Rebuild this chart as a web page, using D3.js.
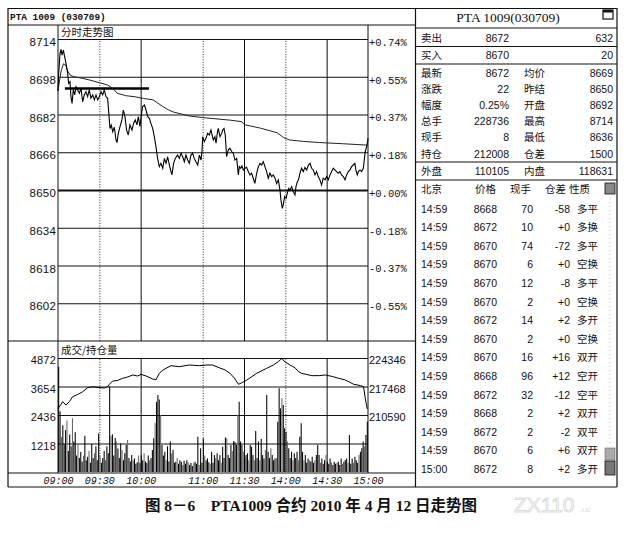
<!DOCTYPE html>
<html><head><meta charset="utf-8">
<script src="https://cdn.jsdelivr.net/npm/d3@7"></script>
<style>
body{margin:0;background:#fff;}
svg{display:block;}
.num{font-family:"Liberation Sans",Arial,sans-serif;}
.mono{font-family:"Liberation Mono","DejaVu Sans Mono",monospace;}
.cjk{font-family:"Noto Sans CJK SC",sans-serif;}
.serif{font-family:"Liberation Serif","Times New Roman",serif;}
</style></head><body>
<svg id="c" width="633" height="535"></svg>
<script>
// ---------------- DATA ----------------
const title = "PTA 1009 (030709)";
const panelTitle = "PTA 1009(030709)";
const timeTickMinutes = [0,30,60,105,135,165,195,225];
const timeTickLabels = ["09:00","09:30","10:00","11:00","11:30","14:00","14:30","15:00"];
const timeGridStyle = ["edge","dot","solid","dot","solid","dot","solid","edge"];
const priceTicks = [8714,8698,8682,8666,8650,8634,8618,8602];
const pctLabels = ["+0.74%","+0.55%","+0.37%","+0.18%","+0.00%","-0.18%","-0.37%","-0.55%"];
const prevSettle = 8650;
const volTicks = [4872,3654,2436,1218];
const oiTicks = [224346,217468,210590];
const markLine = [5, 66, 8693];   // start minute, end minute, price level

const pricePoints = [[0,8692],[0.5,8699.5],[1.5,8708],[2.2,8709.6],[2.9,8707.2],[3.9,8709.3],[4.8,8706.5],[5.8,8703.7],[7,8699.5],[7.7,8695.2],[8.7,8695.9],[9.4,8689.6],[10.2,8686.7],[11.1,8692.4],[12.1,8690.3],[13.1,8693.8],[14.3,8692.4],[15.5,8691],[16.7,8693.1],[17.9,8687.4],[19.1,8690.3],[20.3,8691.7],[21.5,8689.6],[22.7,8692.4],[23.9,8688.9],[25.2,8690.3],[26.4,8688.2],[27.6,8690.3],[28.8,8688.2],[30,8689.6],[31.2,8691.7],[32.4,8690.3],[33.6,8692.4],[34.8,8689.6],[36,8688.9],[36.8,8683.2],[37.7,8676.1],[38.7,8677.5],[39.7,8674.7],[40.9,8676.6],[42.1,8671.2],[42.8,8670.1],[43.8,8674],[45,8676.9],[46.4,8679.7],[47.4,8683.9],[48.6,8681.1],[49.8,8675.4],[51,8673.3],[52.2,8677.6],[53.7,8675.4],[54.9,8678.3],[56.1,8679.7],[57.3,8677.6],[58.3,8681.1],[59.5,8676.9],[60.5,8681.8],[61.4,8685.3],[62.7,8686],[63.9,8683.9],[65.1,8681.1],[66.3,8680.4],[67.5,8678.1],[68.7,8676.1],[69.9,8672.6],[71.1,8668.4],[72.3,8663.4],[73.5,8659.9],[74.7,8661.3],[76,8659.2],[77.2,8663.4],[78.4,8661.3],[79.6,8664.1],[80.8,8660.6],[82,8657.8],[82.7,8656.4],[83.9,8661.3],[85.1,8663.4],[86.8,8664.8],[88.1,8663.4],[89.3,8665.6],[90.5,8664.1],[91.7,8662],[92.9,8664.8],[94.1,8662.7],[95.3,8661.3],[96.5,8664.8],[97.7,8665.6],[98.9,8663.4],[100.1,8662],[101.4,8660.6],[102.6,8664.8],[103.8,8662.7],[104.5,8666.3],[105,8672.6],[106.2,8670.5],[107.4,8671.9],[108.6,8674],[109.8,8673.3],[111,8675.4],[112.7,8671.2],[113.9,8672.6],[114.7,8669.8],[115.6,8674],[116.3,8676.1],[117.6,8672.6],[118.8,8674],[119.5,8675.4],[120.5,8676.1],[121.4,8673.3],[122.4,8664.1],[123.6,8667],[124.8,8667.7],[126,8666.3],[127.2,8665.6],[128.4,8662.7],[129.7,8663.4],[130.9,8656.4],[131.6,8659.9],[132.6,8659.2],[133.5,8660.2],[134.5,8658.5],[135.7,8659.2],[136.9,8659.6],[138.1,8657.8],[139.3,8656.4],[140.5,8657.1],[141.7,8655],[142.9,8652.8],[144.2,8657.1],[145.4,8659.9],[146.6,8661.3],[147.8,8660.6],[149,8662],[150.2,8659.9],[151.4,8657.8],[152.6,8655],[153.8,8657.1],[155.1,8655.7],[156.3,8656.4],[157.5,8655],[158.7,8652.8],[159.9,8654.3],[161.1,8650],[161.8,8645.8],[162.8,8642.2],[163.5,8643.7],[164.5,8647.2],[165.5,8646.5],[166.4,8648.6],[167.4,8650.7],[168.4,8650],[169.6,8651.4],[170.8,8649.3],[172,8647.9],[172.7,8651.4],[173.7,8653.5],[174.6,8654.3],[175.6,8657.1],[176.8,8659.2],[178,8657.8],[179.2,8659.6],[180.5,8658.5],[181.7,8660.6],[182.9,8661.3],[184.1,8659.2],[185.3,8658.5],[186.5,8656.4],[187.7,8657.8],[188.9,8655.7],[190.1,8654.3],[191.3,8652.1],[192.5,8655],[193.8,8654.3],[195,8655.7],[196.2,8654.3],[197.4,8656.4],[198.6,8657.8],[199.8,8659.2],[201,8658.5],[202.2,8657.8],[203.4,8657.1],[204.6,8657.8],[205.8,8656.4],[207.1,8655.7],[208.3,8654.3],[209.5,8656.4],[210.7,8657.8],[211.9,8658.5],[213.1,8659.9],[214.3,8660.6],[215.5,8661.3],[216.2,8658.5],[217.2,8656.4],[218,8657.8],[219.2,8658.5],[220.4,8657.8],[221.6,8659.2],[222.3,8662.7],[223,8666.3],[224,8668.4],[224.7,8670.5],[225,8672]];

const avgPoints = [[0,8692],[1,8696],[2.5,8701],[4,8703.5],[5.5,8703],[7,8700.5],[9,8698.5],[12,8698],[18,8697.3],[23,8696.6],[30,8695.5],[36,8694.5],[40,8693],[43,8691],[49,8690],[56,8689.5],[62,8688.8],[69,8688.2],[72,8687],[76,8685.4],[80,8684],[84,8683],[89,8682.3],[95,8681.4],[105,8680.7],[114,8680.2],[125,8679.6],[133,8679],[136,8677.6],[147,8676.2],[159,8674.3],[163.5,8672.3],[168,8671.2],[178,8670.6],[190,8670.1],[207,8669.6],[225,8669]];

const volumes = [
4500,2600,1500,2000,1200,1800,2200,900,1600,1100,2300,1300,1700,700,1200,
600,850,450,700,1550,500,650,900,400,1200,600,800,1100,500,1650,
700,400,600,900,500,1100,800,3650,1550,1600,700,1450,1300,1000,600,
1220,940,500,800,1150,1370,600,450,730,500,580,350,420,700,400,
720,500,800,450,380,700,500,600,940,1440,2100,3000,3290,3100,2440,
1150,700,870,500,1100,450,1300,800,950,400,440,600,350,500,440,
300,480,350,500,420,300,380,260,400,440,350,1510,300,1010,400,
1440,700,500,580,420,350,870,400,730,600,800,500,730,400,1080,
600,1470,1440,730,600,1150,900,1320,1270,1150,2440,3000,1300,1150,870,
600,730,800,500,1150,1080,730,500,1750,600,1300,500,1410,730,580,
940,3290,870,600,1010,730,500,580,600,2150,3580,2720,3150,2860,1870,
1720,1300,1010,600,870,500,800,600,870,500,1510,2080,870,500,730,
400,580,500,450,650,400,500,730,1150,730,400,580,350,500,730,
440,350,580,400,300,440,350,400,440,300,580,350,440,510,580,
400,1580,350,580,400,650,500,400,730,870,1010,1300,1100,1580,2150];

const oiPoints = [[0,212200],[1.5,212800],[3.4,213800],[5.8,213000],[8.2,213800],[10.6,215000],[14,215500],[17.9,216200],[21.5,217180],[25.2,217400],[30,217200],[33.6,217100],[36,217400],[37.3,218000],[39.7,218800],[43,218900],[46.9,219450],[50,219700],[54.2,220240],[57.8,220000],[60.2,220400],[63.9,220000],[66,219700],[68.7,219280],[71.1,219100],[73.5,220650],[76,221400],[78.4,221860],[82,222490],[88,222250],[95.3,222657],[102.6,222500],[108,222650],[112,222657],[117,222000],[121.4,221450],[125,220600],[128,219500],[131,218000],[133,218300],[137,219000],[144.2,220650],[151.4,221850],[156.3,222650],[160,223500],[162.6,224270],[164,223600],[168.4,222650],[172,222000],[174.6,221040],[176.8,220650],[184.3,220080],[190,220100],[194,220250],[199,219900],[203.7,219450],[208,219100],[211,218640],[214.6,218000],[219.4,217700],[221.8,217420],[223,214620],[224.5,212008]];

const quoteSell = ["卖出","8672","632"];
const quoteBuy = ["买入","8670","20"];
const statLabels1 = ["最新","涨跌","幅度","总手","现手","持仓"];
const statValues1 = ["8672","22","0.25%","228736","8","212008"];
const statLabels2 = ["均价","昨结","开盘","最高","最低","仓差"];
const statValues2 = ["8669","8650","8692","8714","8636","1500"];
const outerInner = ["外盘","110105","内盘","118631"];
const tradeHeader = ["北京","价格","现手","仓差","性质"];
const tradeTimes = ["14:59","14:59","14:59","14:59","14:59","14:59","14:59","14:59","14:59","14:59","14:59","14:59","14:59","14:59","15:00"];
const tradePrice = [8668,8672,8670,8670,8670,8670,8672,8670,8670,8668,8672,8668,8672,8670,8672];
const tradeVol = [70,10,74,6,12,2,14,2,16,96,32,2,2,6,8];
const tradeOI = ["-58","+0","-72","+0","-8","+0","+2","+0","+16","+12","-12","+2","-2","+6","+2"];
const tradeType = ["多平","多换","多平","空换","多平","空换","多开","空换","双开","空开","空平","双开","双平","双开","多开"];
const caption = "图 8－6    PTA1009 合约 2010 年 4 月 12 日走势图";

// ---------------- DRAW ----------------
const svg = d3.select("#c");
const ink = "#111";
const L = 58, R = 368;
const x = d3.scaleLinear().domain([0,225]).range([L,R]);
const yP = d3.scaleLinear().domain([8586,8714]).range([341,39]);
const yV = d3.scaleLinear().domain([0,4872]).range([472,358]);
const yOI = d3.scaleLinear().domain([196834,224346]).range([472,358]);

function hline(x1,x2,y,w){svg.append("line").attr("x1",x1).attr("x2",x2).attr("y1",y).attr("y2",y).attr("stroke",ink).attr("stroke-width",w||1);}
function vline(xx,y1,y2,w){svg.append("line").attr("x1",xx).attr("x2",xx).attr("y1",y1).attr("y2",y2).attr("stroke",ink).attr("stroke-width",w||1);}

// left frame
hline(8,617,8.5,1.2);
hline(8,415,25,1);
vline(8,8,487,1.2);
vline(415.5,8,487,1.2);
vline(617,8,487,1.2);
hline(8,617,487,1.2);
hline(8,415,341,1.2);
hline(8,415,473,1.2);
vline(L,25,473,1);
vline(R,25,473,1);

svg.append("text").attr("class","mono").attr("x",10).attr("y",20).attr("font-size",9.4).attr("font-weight","bold").attr("fill",ink).text(title);
svg.append("text").attr("class","cjk").attr("x",61).attr("y",36).attr("font-size",10.5).attr("fill",ink).text("分时走势图");
svg.append("text").attr("class","cjk").attr("x",61).attr("y",354).attr("font-size",10.5).attr("fill",ink).text("成交/持仓量");

// vertical time grid
function vgrid(y0,h){
  const g = svg.append("g").attr("transform",`translate(0,${y0})`)
   .call(d3.axisBottom(x).tickValues(timeTickMinutes).tickSize(-h).tickFormat(""));
  g.select(".domain").remove();
  g.selectAll(".tick line").attr("stroke",ink)
   .attr("stroke-width",(d,i)=>timeGridStyle[i]==="dot"?0.9:1)
   .attr("stroke-dasharray",(d,i)=>timeGridStyle[i]==="dot"?"1,1.6":null)
   .attr("opacity",(d,i)=>timeGridStyle[i]==="edge"?0:1);
}
vgrid(341,302);
vgrid(472,114);

// price grid + labels
const gPL = svg.append("g").attr("transform",`translate(${L},0)`)
  .call(d3.axisLeft(yP).tickValues(priceTicks).tickSize(-(R-L)).tickPadding(2).tickFormat(d3.format("d")));
gPL.select(".domain").remove();
gPL.selectAll(".tick line").attr("stroke",ink).attr("stroke-width",d=>d===prevSettle?2:1);
gPL.selectAll(".tick text").attr("class","num").attr("font-size",11.5).attr("fill",ink).attr("y",3).attr("letter-spacing",0.2);

const gPR = svg.append("g").attr("transform",`translate(${R},0)`)
  .call(d3.axisRight(yP).tickValues(priceTicks).tickSize(0).tickPadding(1).tickFormat((d,i)=>pctLabels[i]));
gPR.select(".domain").remove();
gPR.selectAll(".tick text").attr("class","mono").attr("font-size",10.5).attr("fill",ink).attr("y",3);

// annotation level line
svg.append("line").attr("x1",x(markLine[0])).attr("x2",x(markLine[1]))
  .attr("y1",yP(markLine[2])).attr("y2",yP(markLine[2])).attr("stroke","#000").attr("stroke-width",2.4);

// average and price lines
const lineP = d3.line().x(d=>x(d[0])).y(d=>yP(d[1]));
svg.append("path").datum(avgPoints).attr("d",lineP).attr("fill","none").attr("stroke","#222").attr("stroke-width",1);
svg.append("path").datum(pricePoints).attr("d",lineP).attr("fill","none").attr("stroke","#000").attr("stroke-width",1.1);

// volume grid + labels
const gVL = svg.append("g").attr("transform",`translate(${L},0)`)
  .call(d3.axisLeft(yV).tickValues(volTicks).tickSize(-(R-L)).tickPadding(2).tickFormat(d3.format("d")));
gVL.select(".domain").remove();
gVL.selectAll(".tick line").attr("stroke",ink);
gVL.selectAll(".tick text").attr("class","num").attr("font-size",11).attr("fill",ink).attr("y",2).attr("letter-spacing",0.2);

const gVR = svg.append("g").attr("transform",`translate(${R},0)`)
  .call(d3.axisRight(yOI).tickValues(oiTicks).tickSize(0).tickPadding(1).tickFormat(d3.format("d")));
gVR.select(".domain").remove();
gVR.selectAll(".tick text").attr("class","num").attr("font-size",11).attr("fill",ink).attr("y",2);

// volume bars
svg.append("g").selectAll("line").data(volumes).join("line")
  .attr("x1",(d,i)=>x(i+0.5)).attr("x2",(d,i)=>x(i+0.5))
  .attr("y1",yV(0)).attr("y2",d=>yV(d))
  .attr("stroke",(d,i)=>i%4===2?"#666":"#000").attr("stroke-width",1.05);

// open interest line
svg.append("path").datum(oiPoints).attr("d",d3.line().x(d=>x(d[0])).y(d=>yOI(d[1])))
  .attr("fill","none").attr("stroke","#000").attr("stroke-width",1);

// time axis labels
const gT = svg.append("g").attr("transform","translate(0,473)")
  .call(d3.axisBottom(x).tickValues(timeTickMinutes).tickSize(0).tickPadding(4).tickFormat((d,i)=>timeTickLabels[i]));
gT.select(".domain").remove();
gT.selectAll(".tick text").attr("class","mono").attr("font-size",10).attr("fill",ink).attr("font-style","italic");

// ---------------- RIGHT PANEL ----------------
const PX0 = 416, PX1 = 617;
svg.append("text").attr("class","serif").attr("x",508).attr("y",22).attr("text-anchor","middle").attr("font-size",13.5).attr("fill",ink).text(panelTitle);
svg.append("rect").attr("x",603).attr("y",10).attr("width",10).attr("height",9).attr("fill","#fff").attr("stroke",ink).attr("stroke-width",1.2);
svg.append("rect").attr("x",603).attr("y",10).attr("width",10).attr("height",2.5).attr("fill",ink);
hline(PX0,PX1,28,1.2);
hline(PX0,PX1,46.5,1.2);
hline(PX0,PX1,64,1.2);
hline(PX0,PX1,162,1.2);
hline(PX0,PX1,180,1.2);

function cjk(t,xx,yy,anchor){svg.append("text").attr("class","cjk").attr("x",xx).attr("y",yy).attr("font-size",10.5).attr("fill",ink).attr("text-anchor",anchor||"start").text(t);}
function num(t,xx,yy,anchor){svg.append("text").attr("class","num").attr("x",xx).attr("y",yy).attr("font-size",10.5).attr("fill",ink).attr("text-anchor",anchor||"end").text(t);}

cjk(quoteSell[0],421,41.5); num(quoteSell[1],509,41.5); num(quoteSell[2],613,41.5);
cjk(quoteBuy[0],421,59); num(quoteBuy[1],509,59); num(quoteBuy[2],613,59);
statLabels1.forEach((t,i)=>{
  const yy = 76.5 + i*16.2;
  cjk(t,421,yy); num(statValues1[i],509,yy);
  cjk(statLabels2[i],524,yy); num(statValues2[i],613,yy);
});
cjk(outerInner[0],421,175); num(outerInner[1],509,175); cjk(outerInner[2],524,175); num(outerInner[3],613,175);

// trade list header
const hy = 193;
cjk(tradeHeader[0],421,hy);
cjk(tradeHeader[1],496,hy,"end");
cjk(tradeHeader[2],531,hy,"end");
cjk(tradeHeader[3],566,hy,"end");
cjk(tradeHeader[4],569,hy);
svg.append("rect").attr("x",605).attr("y",183).attr("width",10).attr("height",11).attr("fill","#888").attr("stroke",ink).attr("stroke-width",0.8);
svg.append("line").attr("x1",610).attr("x2",610).attr("y1",198).attr("y2",446).attr("stroke","#bbb").attr("stroke-dasharray","1,3");
svg.append("rect").attr("x",605).attr("y",448).attr("width",10).attr("height",12).attr("fill","#aaa").attr("stroke","#666").attr("stroke-width",0.6);
svg.append("rect").attr("x",605).attr("y",461).attr("width",10).attr("height",14).attr("fill","#777").attr("stroke",ink).attr("stroke-width",0.8);

tradeTimes.forEach((t,i)=>{
  const yy = 212.5 + i*18.6;
  num(t,421,yy,"start");
  num(String(tradePrice[i]),497,yy);
  num(String(tradeVol[i]),533,yy);
  num(tradeOI[i],570,yy);
  cjk(tradeType[i],577,yy);
});

// caption + watermark
svg.append("text").attr("x",311).attr("y",511).attr("text-anchor","middle")
  .attr("font-family","'Liberation Serif','Noto Sans CJK SC',serif").attr("font-weight","bold")
  .attr("font-size",15.5).attr("fill","#111").style("white-space","pre").text(caption);
svg.append("text").attr("x",514).attr("y",512).attr("font-family","'Liberation Sans',sans-serif")
  .attr("font-size",21).attr("fill","none").attr("stroke","#dcdcdc").attr("stroke-width",1).text("ZX110");
svg.append("text").attr("x",580).attr("y",512).attr("font-family","'Liberation Sans',sans-serif")
  .attr("font-size",8).attr("fill","#dcdcdc").text(".uc");
</script></body></html>
